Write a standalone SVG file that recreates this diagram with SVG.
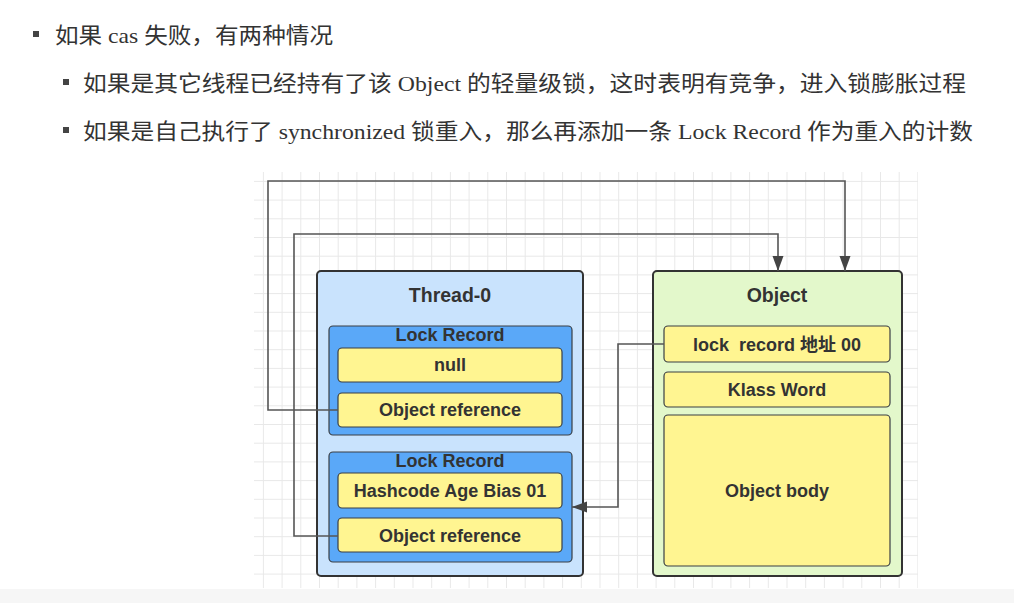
<svg xmlns="http://www.w3.org/2000/svg" width="1014" height="603" viewBox="0 0 1014 603">
<defs>
  <pattern id="grid" patternUnits="userSpaceOnUse" x="1.1" y="12.6" width="18.7" height="18.7">
    <path d="M0.5,0 V18.7 M0,0.5 H18.7" fill="none" stroke="#e8e8e8" stroke-width="1"/>
  </pattern>
  <marker id="arr" markerUnits="userSpaceOnUse" markerWidth="16" markerHeight="12" refX="15" refY="6" orient="auto">
    <path d="M0,0.5 L15,6 L0,11.5 z" fill="#444"/>
  </marker>
  <style>
    .bul{font-family:"Liberation Serif","Noto Sans CJK SC",serif;font-size:22px;fill:#333}
    .sq{fill:#444}
    .outer{stroke:#333;stroke-width:2}
    .inner{stroke:#3a3f45;stroke-width:1.2}
    .lr{fill:#5aa8f8}
    .yel{fill:#fff591}
    .t{font-family:"Liberation Sans","Noto Sans CJK SC",sans-serif;font-weight:bold;font-size:18px;fill:#333;text-anchor:middle;dominant-baseline:central}
    .title{font-size:19.5px}
    .conn{fill:none;stroke:#555;stroke-width:1.6}
  </style>
</defs>
<rect x="0" y="0" width="1014" height="603" fill="#ffffff"/>
<rect x="0" y="589" width="1014" height="14" fill="#f6f6f6"/>
<rect x="254" y="172" width="664" height="416" fill="url(#grid)"/>

<g id="text">
  <rect class="sq" x="33" y="31" width="6" height="6"/>
  <text class="bul" x="55" y="43" textLength="278" lengthAdjust="spacingAndGlyphs">如果 cas 失败，有两种情况</text>
  <rect class="sq" x="63" y="79" width="6" height="6"/>
  <text class="bul" x="83" y="91" textLength="883" lengthAdjust="spacingAndGlyphs">如果是其它线程已经持有了该 Object 的轻量级锁，这时表明有竞争，进入锁膨胀过程</text>
  <rect class="sq" x="63" y="127" width="6" height="6"/>
  <text class="bul" x="83" y="139" textLength="890" lengthAdjust="spacingAndGlyphs">如果是自己执行了 synchronized 锁重入，那么再添加一条 Lock Record 作为重入的计数</text>
</g>

<g id="thread0">
  <rect class="outer" x="317" y="271" width="266" height="305" rx="4" fill="#c9e3fd"/>
  <text class="t title" x="450" y="295">Thread-0</text>
</g>
<g id="lockrecord1">
  <rect class="inner lr" x="329" y="326" width="243" height="109" rx="4"/>
  <text class="t" x="450" y="335">Lock Record</text>
</g>
<g id="null">
  <rect class="inner yel" x="338" y="348" width="224" height="34" rx="4"/>
  <text class="t" x="450" y="365">null</text>
</g>
<g id="objref1">
  <rect class="inner yel" x="338" y="393" width="224" height="34" rx="4"/>
  <text class="t" x="450" y="410">Object reference</text>
</g>
<g id="lockrecord2">
  <rect class="inner lr" x="329" y="452" width="243" height="110" rx="4"/>
  <text class="t" x="450" y="461">Lock Record</text>
</g>
<g id="hashcode">
  <rect class="inner yel" x="338" y="473" width="224" height="35" rx="4"/>
  <text class="t" x="450" y="491">Hashcode Age Bias 01</text>
</g>
<g id="objref2">
  <rect class="inner yel" x="338" y="518" width="224" height="34" rx="4"/>
  <text class="t" x="450" y="536">Object reference</text>
</g>

<g id="object">
  <rect class="outer" x="653" y="271" width="249" height="305" rx="4" fill="#e3f8cb"/>
  <text class="t title" x="777" y="295">Object</text>
</g>
<g id="markword">
  <rect class="inner yel" x="664" y="326" width="226" height="36" rx="4"/>
  <text class="t" x="777" y="345" xml:space="preserve">lock  record 地址 00</text>
</g>
<g id="klass">
  <rect class="inner yel" x="664" y="372" width="226" height="35" rx="4"/>
  <text class="t" x="777" y="390">Klass Word</text>
</g>
<g id="body">
  <rect class="inner yel" x="664" y="415" width="226" height="151" rx="4"/>
  <text class="t" x="777" y="491">Object body</text>
</g>

<g id="connectors">
  <path class="conn" d="M338,410 H268 V181 H845 V271" marker-end="url(#arr)"/>
  <path class="conn" d="M338,536 H294 V234 H778 V271" marker-end="url(#arr)"/>
  <path class="conn" d="M664,344 H618 V507 H572" marker-end="url(#arr)"/>
</g>
</svg>
